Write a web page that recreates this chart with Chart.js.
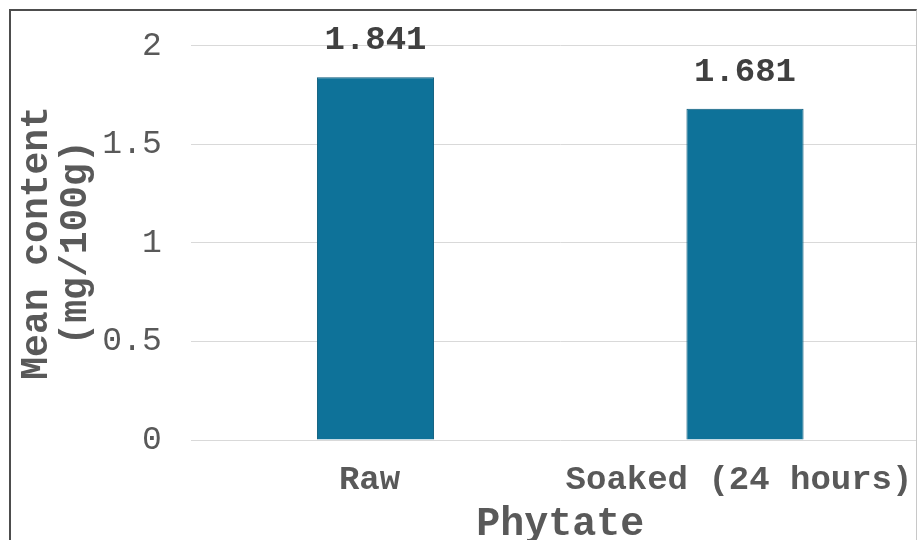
<!DOCTYPE html>
<html>
<head>
<meta charset="utf-8">
<script src="https://cdn.jsdelivr.net/npm/chart.js@4.4.1/dist/chart.umd.min.js"></script>
<style>
  html, body { margin: 0; padding: 0; background: #ffffff; }
  #wrap { position: relative; width: 917px; height: 540px; overflow: hidden; background: #ffffff; }
  #chart { position: absolute; left: 0; top: -3px; }
  #frame {
    position: absolute; left: 9px; top: 9px; width: 905px; height: 620px;
    border-left: 2px solid #4d4d4d; border-top: 2px solid #4d4d4d; border-right: 1px solid #c8c8c8;
    pointer-events: none;
  }
</style>
</head>
<body>
<div id="wrap">
  <canvas id="chart" width="960" height="600" style="width:960px;height:600px"></canvas>
  <div id="frame"></div>
</div>
<script>
// Phytate content before and after soaking
const categories = ['Raw', 'Soaked (24 hours)'];
const meanContent = [1.841, 1.681];
const valueLabels = ['1.841', '1.681'];
const yTicks = [0, 0.5, 1, 1.5, 2];
const xTitle = 'Phytate';
const yTitle = ['Mean content', '(mg/100g)'];

const MONO = "'Liberation Mono', 'Courier New', monospace";
const TEXT = '#595959';

// Writes the value above each bar
const barValuePlugin = {
  id: 'barValues',
  afterDatasetsDraw(chart) {
    const ctx = chart.ctx;
    const meta = chart.getDatasetMeta(0);
    ctx.save();
    ctx.font = 'bold 34px ' + MONO;
    ctx.fillStyle = '#404040';
    ctx.textAlign = 'center';
    ctx.textBaseline = 'alphabetic';
    meta.data.forEach((bar, i) => {
      ctx.fillText(valueLabels[i], bar.x, bar.y - 28);
    });
    ctx.restore();
  }
};

new Chart(document.getElementById('chart'), {
  type: 'bar',
  data: {
    labels: categories,
    datasets: [{
      data: meanContent,
      backgroundColor: '#0e7299',
      borderColor: '#0a5a7a',
      borderWidth: 1,
      categoryPercentage: 1.0,
      barPercentage: 0.317
    }]
  },
  options: {
    responsive: false,
    animation: false,
    layout: { padding: { left: 10, right: 30.25, top: 42, bottom: 37 } },
    plugins: { legend: { display: false }, tooltip: { enabled: false } },
    scales: {
      x: {
        grid: { display: false, drawTicks: false },
        border: { display: false },
        ticks: {
          color: TEXT, padding: 20, labelOffset: -6, maxRotation: 0, autoSkip: false,
          font: { family: MONO, size: 34, weight: 'bold', lineHeight: 1.2 }
        },
        title: {
          display: true, text: xTitle, color: TEXT, padding: { top: 0, bottom: 15 },
          font: { family: MONO, size: 40, weight: 'bold', lineHeight: 1.0 }
        },
        afterFit(scale) { scale.height = 120; }
      },
      y: {
        min: 0, max: 2,
        afterBuildTicks(scale) { scale.ticks = yTicks.map(v => ({ value: v })); },
        grid: { color: '#d9d9d9', lineWidth: 1, drawTicks: false },
        border: { display: false },
        ticks: {
          color: TEXT, padding: 29,
          font: { family: MONO, size: 33, lineHeight: 1.2 },
          callback: v => String(v)
        },
        title: {
          display: true, text: yTitle, color: TEXT, padding: { top: 7, bottom: 0 },
          font: { family: MONO, size: 38, weight: 'bold', lineHeight: 1.05 }
        },
        afterFit(scale) { scale.width = 180.75; }
      }
    }
  },
  plugins: [barValuePlugin]
});
</script>
</body>
</html>
